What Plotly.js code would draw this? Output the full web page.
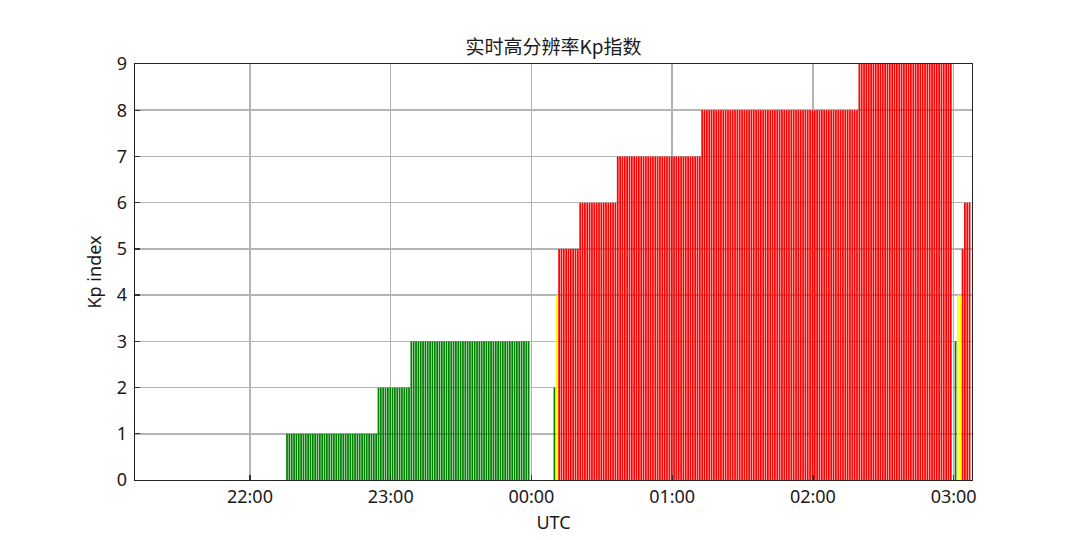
<!DOCTYPE html>
<html>
<head>
<meta charset="utf-8">
<script src="https://cdn.plot.ly/plotly-3.0.1.min.js"></script>
<style>
html,body{margin:0;padding:0;background:#fff;}
#chart{width:1080px;height:540px;}
.bars path{shape-rendering:auto !important;}
</style>
</head>
<body>
<div id="chart"></div>
<script>
// Run-length Kp readings (one bar per minute, inclusive start/end minutes, UTC)
var segStart = ['2024-10-10 22:15','2024-10-10 22:54','2024-10-10 23:08','2024-10-11 00:09','2024-10-11 00:10','2024-10-11 00:11','2024-10-11 00:20','2024-10-11 00:36','2024-10-11 01:12','2024-10-11 02:19','2024-10-11 03:00','2024-10-11 03:01','2024-10-11 03:03','2024-10-11 03:04'];
var segEnd   = ['2024-10-10 22:53','2024-10-10 23:07','2024-10-10 23:58','2024-10-11 00:09','2024-10-11 00:10','2024-10-11 00:19','2024-10-11 00:35','2024-10-11 01:11','2024-10-11 02:18','2024-10-11 02:58','2024-10-11 03:00','2024-10-11 03:02','2024-10-11 03:03','2024-10-11 03:06'];
var segKp    = [1,2,3,2,4,5,6,7,8,9,3,4,5,6];

var yTicks = [0,1,2,3,4,5,6,7,8,9];
var titleText = '实时高分辨率Kp指数';
var xTitle = 'UTC';
var yTitle = 'Kp index';

function toMs(s){ return Date.parse(s.replace(' ','T')+':00Z'); }
function fmt(ms){ return new Date(ms).toISOString().slice(0,19).replace('T',' '); }
function kpColor(k){ return k >= 5 ? '#ff0000' : (k === 4 ? '#ffff00' : '#008000'); }

var xs = [], ys = [], cs = [];
for (var i = 0; i < segKp.length; i++) {
  for (var t = toMs(segStart[i]); t <= toMs(segEnd[i]); t += 60000) {
    xs.push(fmt(t)); ys.push(segKp[i]); cs.push(kpColor(segKp[i]));
  }
}

var trace = {
  type: 'bar', x: xs, y: ys,
  marker: {color: cs, line: {width: 0}},
  width: 45000, offset: 26000,
  hoverinfo: 'skip'
};

var axFont = {family: 'Noto Sans, Open Sans, sans-serif', size: 18, color: '#1a1a1a'};
var layout = {
  width: 1080, height: 540,
  margin: {l: 135, r: 108, t: 64, b: 60},
  paper_bgcolor: '#fff', plot_bgcolor: '#fff',
  showlegend: false,
  bargap: 0,
  title: {text: titleText, x: 0.5125, xanchor: 'center', y: 0.912, yanchor: 'middle',
          font: {family: 'Noto Sans CJK SC, sans-serif', size: 19, color: '#1a1a1a'}},
  xaxis: {
    type: 'date',
    range: ['2024-10-10 21:11:00', '2024-10-11 03:07:50'],
    tick0: '2024-10-10 22:00', dtick: 3600000, tickformat: '%H:%M',
    ticks: 'inside', ticklen: 5, tickwidth: 1.3, tickcolor: '#333',
    showgrid: true, gridcolor: '#b4b4b4', gridwidth: 1.5,
    showline: true, linecolor: '#222', linewidth: 1.4, mirror: true,
    zeroline: false, tickfont: axFont,
    title: {text: xTitle, font: axFont, standoff: 9}
  },
  yaxis: {
    range: [0, 9], tickvals: yTicks, ticktext: yTicks.map(String),
    ticks: 'inside', ticklen: 5, tickwidth: 1.3, tickcolor: '#333',
    ticklabelstandoff: 3,
    showgrid: true, gridcolor: '#b4b4b4', gridwidth: 1.5,
    showline: true, linecolor: '#222', linewidth: 1.4, mirror: true,
    zeroline: false, tickfont: axFont,
    title: {text: yTitle, font: axFont, standoff: 10}
  }
};

Plotly.newPlot('chart', [trace], layout, {staticPlot: true, displayModeBar: false});
</script>
</body>
</html>
